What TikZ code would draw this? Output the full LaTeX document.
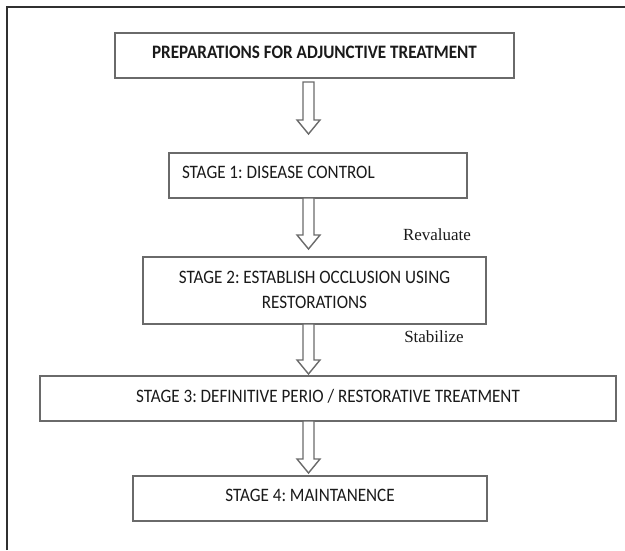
\documentclass[tikz,border=0pt]{standalone}
\usepackage{fontspec}
\setmainfont[FakeStretch=0.9]{Carlito}
\newfontfamily\serifface{Liberation Serif}
\usetikzlibrary{calc}
\definecolor{boxline}{HTML}{6A6A6A}
\definecolor{txt}{HTML}{1A1A1A}
\definecolor{frameline}{HTML}{303030}
\frenchspacing
\newcommand\blockarrow[4]{%
  \draw[arrowshape] let \p1=(#1.south), \p2=(#2.north) in
   (303pt,{\y1-#3}) -- (303pt,{\y2+#4+14pt}) -- (297pt,{\y2+#4+14pt})
   -- (308.5pt,{\y2+#4}) -- (320pt,{\y2+#4+14pt}) -- (314pt,{\y2+#4+14pt})
   -- (314pt,{\y1-#3}) -- cycle;}
\begin{document}
\begin{tikzpicture}[x=1pt,y=-1pt,
  box/.style={draw=boxline, line width=1.6pt, fill=white, inner sep=0pt,
    outer sep=0pt, minimum height=45pt, text=txt,
    font=\fontsize{19}{25}\selectfont, text depth=6pt},
  lab/.style={text=txt, inner sep=0pt, font=\serifface\fontsize{17}{20}\selectfont},
  arrowshape/.style={draw=boxline, line width=1.4pt, fill=white, line join=miter}]
\useasboundingbox (0,0) rectangle (625,550);
\draw[frameline, line width=2pt] (7,550) -- (7,7) -- (625,7);
\node[box, minimum width=399pt] (b0) at (314.5,55.5) {\bfseries PREPARATIONS FOR ADJUNCTIVE TREATMENT};
\node[box, minimum width=298pt] (b1) at (318,175.5) {\makebox[272pt][l]{STAGE 1: DISEASE CONTROL}};
\node[box, minimum width=343pt, minimum height=67pt, align=center, text depth=2pt] (b2) at (314.5,290.5) {STAGE 2: ESTABLISH OCCLUSION USING\\RESTORATIONS};
\node[box, minimum width=576pt] (b3) at (328,398.5) {STAGE 3: DEFINITIVE PERIO / RESTORATIVE TREATMENT};
\node[box, minimum width=354pt] (b4) at (310,498.5) {STAGE 4: MAINTANENCE};
\node[lab] (rev) at (437,235) {Revaluate};
\node[lab] (stab) at (434,337) {Stabilize};
\blockarrow{b0}{b1}{4pt}{19pt}
\blockarrow{b1}{b2}{0pt}{8pt}
\blockarrow{b2}{b3}{0pt}{2pt}
\blockarrow{b3}{b4}{0pt}{3pt}
\end{tikzpicture}
\end{document}
